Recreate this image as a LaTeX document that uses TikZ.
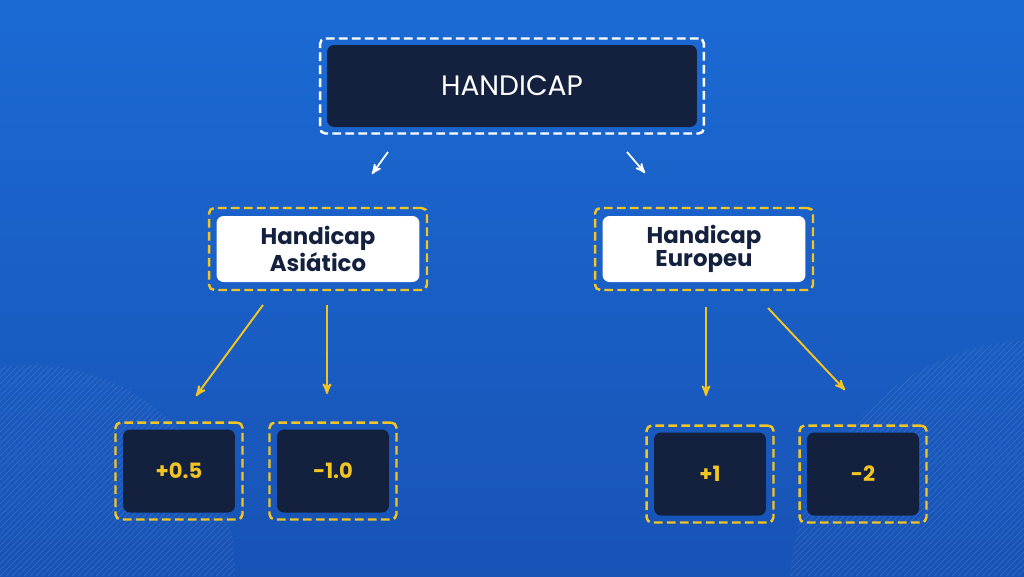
\documentclass[tikz,border=0pt]{standalone}
\usepackage{fontspec}
\setmainfont{Poppins}
\usetikzlibrary{arrows,shapes}

\definecolor{bgtop}{HTML}{1B6AD4}
\definecolor{bgbottom}{HTML}{1853B6}
\definecolor{navy}{HTML}{13213F}
\definecolor{gold}{HTML}{F2C523}

\begin{document}
\begin{tikzpicture}[x=0.02cm,y=-0.02cm,>=stealth']

  \tikzstyle{frame}=[rectangle,line width=1.4pt,dash pattern=on 5pt off 2.4pt,rounded corners=3pt]
  \tikzstyle{white frame}=[frame,draw=white,minimum width=7.68cm,minimum height=1.9cm]
  \tikzstyle{gold frame}=[frame,draw=gold]
  \tikzstyle{title box}=[rectangle,fill=navy,rounded corners=4pt,minimum width=7.4cm,minimum height=1.64cm,
                         text=white,font=\fontsize{16}{18}\selectfont]
  \tikzstyle{type box}=[rectangle,fill=white,rounded corners=4pt,minimum width=4.06cm,minimum height=1.32cm,
                        text=navy,align=center,font=\bfseries\fontsize{13}{12.8}\selectfont]
  \tikzstyle{value box}=[rectangle,fill=navy,rounded corners=4pt,minimum width=2.24cm,minimum height=1.66cm,
                         text=gold,font=\bfseries\fontsize{12}{14}\selectfont]
  \tikzstyle{white arrow}=[->,draw=white,line width=1pt]
  \tikzstyle{gold arrow}=[->,draw=gold,line width=1.1pt]

  \useasboundingbox (0,0) rectangle (1024,576);

  % background
  \shade[top color=bgtop,bottom color=bgbottom] (0,0) rectangle (1024,576);
  \begin{scope}
    \clip (30,570) circle (205);
    \foreach \s in {-600,-594,...,400}
      \draw[white,opacity=0.1,line width=0.5pt] (\s,576) -- (\s+600,-24);
  \end{scope}
  \begin{scope}
    \clip (1040,590) circle (250);
    \foreach \s in {400,406,...,1400}
      \draw[white,opacity=0.1,line width=0.5pt] (\s,576) -- (\s+600,-24);
  \end{scope}

  % top
  \node[white frame] (top frame) at (512,86) {};
  \node[title box]   (top)       at (512,86) {HANDICAP};

  % second row
  \node[gold frame,minimum width=4.36cm,minimum height=1.64cm] (asia frame) at (318,249) {};
  \node[type box] (asia) at (318,249) {Handicap\\Asiático};
  \node[gold frame,minimum width=4.36cm,minimum height=1.64cm] (euro frame) at (704,249) {};
  \node[type box] (euro) at (704,249) {Handicap\\Europeu};

  % values
  \node[gold frame,minimum width=2.54cm,minimum height=1.94cm] (p05 frame) at (179,471) {};
  \node[value box] (p05) at (179,471) {+0.5};
  \node[gold frame,minimum width=2.54cm,minimum height=1.94cm] (m10 frame) at (333,471) {};
  \node[value box] (m10) at (333,471) {-1.0};
  \node[gold frame,minimum width=2.54cm,minimum height=1.94cm] (p1 frame) at (710,474) {};
  \node[value box] (p1) at (710,474) {+1};
  \node[gold frame,minimum width=2.54cm,minimum height=1.94cm] (m2 frame) at (863,474) {};
  \node[value box] (m2) at (863,474) {-2};

  % arrows
  \coordinate (wl from) at (388,152);  \coordinate (wl to) at (372,174);
  \coordinate (wr from) at (627,152);  \coordinate (wr to) at (645,173);
  \coordinate (a1 from) at (263,305);  \coordinate (a1 to) at (196,396);
  \coordinate (a2 from) at (327,305);  \coordinate (a2 to) at (327,394);
  \coordinate (e1 from) at (706,307);  \coordinate (e1 to) at (706,396);
  \coordinate (e2 from) at (768,308);  \coordinate (e2 to) at (845,390);

  \path (wl from) edge[white arrow] (wl to)
        (wr from) edge[white arrow] (wr to)
        (a1 from) edge[gold arrow]  (a1 to)
        (a2 from) edge[gold arrow]  (a2 to)
        (e1 from) edge[gold arrow]  (e1 to)
        (e2 from) edge[gold arrow]  (e2 to);

\end{tikzpicture}
\end{document}
